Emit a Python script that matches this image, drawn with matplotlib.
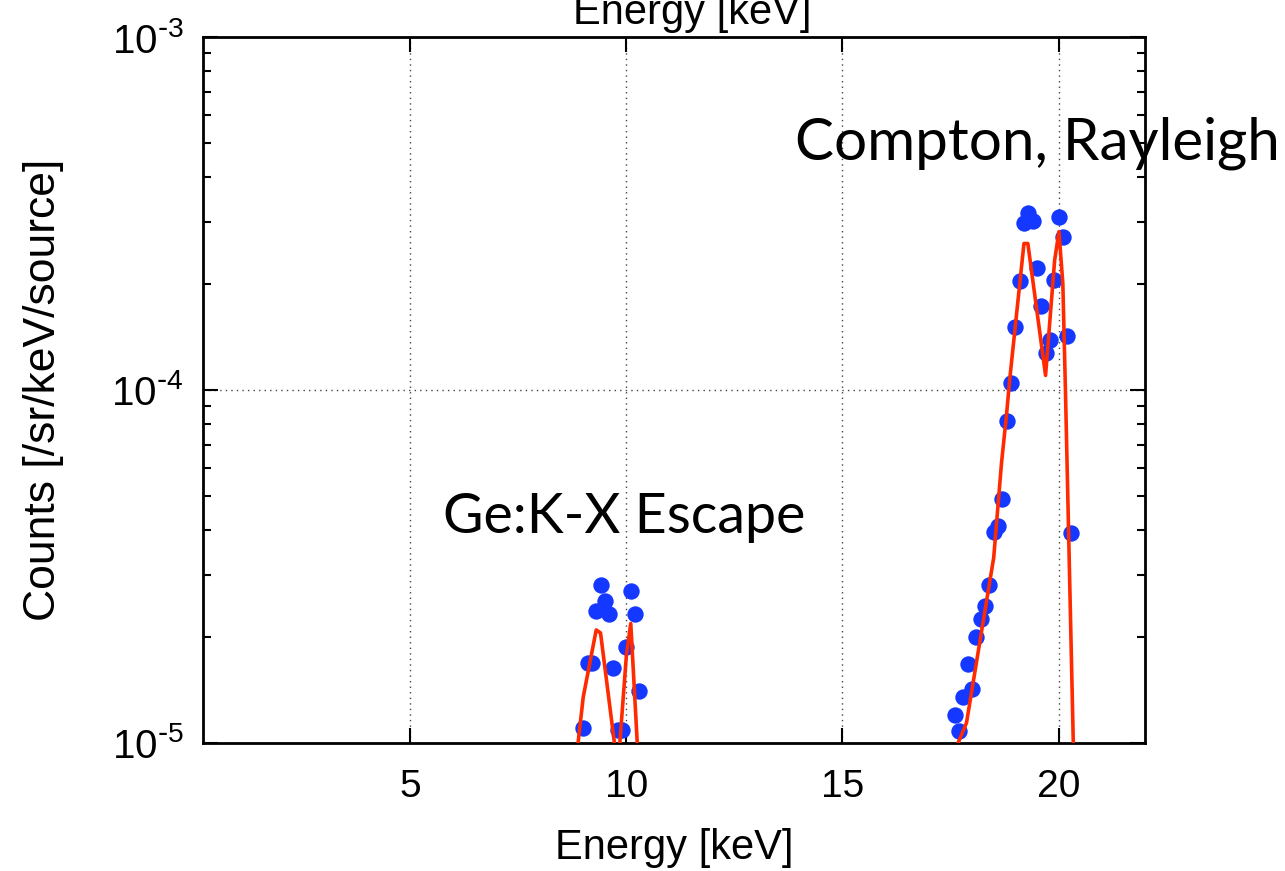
# Ge detector spectrum: escape peak and Compton/Rayleigh region, data vs simulation

import numpy as np
import matplotlib.pyplot as plt
from matplotlib.ticker import FixedLocator, LogLocator, FuncFormatter, NullFormatter

plt.rcParams['font.family'] = ['Liberation Sans', 'DejaVu Sans']
plt.rcParams['axes.unicode_minus'] = False

# measured points (energy in keV, counts /sr/keV/source)
esc_x = [9.0, 9.1, 9.2, 9.3, 9.4, 9.5, 9.6, 9.7, 9.8, 9.9, 10.0, 10.1, 10.2, 10.3]
esc_y = [1.10e-5, 1.69e-5, 1.69e-5, 2.37e-5, 2.80e-5, 2.53e-5, 2.32e-5, 1.63e-5,
         1.09e-5, 1.09e-5, 1.87e-5, 2.70e-5, 2.32e-5, 1.40e-5]

cmp_x = [17.6, 17.7, 17.8, 17.9, 18.0, 18.1, 18.2, 18.3, 18.4, 18.5, 18.6, 18.7,
         18.8, 18.9, 19.0, 19.1, 19.2, 19.3, 19.4, 19.5, 19.6, 19.7, 19.8, 19.9,
         20.0, 20.1, 20.2, 20.3]
cmp_y = [1.20e-5, 1.08e-5, 1.35e-5, 1.67e-5, 1.42e-5, 2.00e-5, 2.25e-5, 2.45e-5,
         2.80e-5, 3.96e-5, 4.12e-5, 4.91e-5, 8.15e-5, 1.05e-4, 1.51e-4, 2.04e-4,
         2.97e-4, 3.17e-4, 3.02e-4, 2.22e-4, 1.73e-4, 1.27e-4, 1.39e-4, 2.05e-4,
         3.10e-4, 2.71e-4, 1.42e-4, 3.94e-5]

# simulation curves
sim_esc_x = [8.8, 9.0, 9.3, 9.4, 9.8, 10.0, 10.1, 10.3]
sim_esc_y = [8.2e-6, 1.35e-5, 2.09e-5, 2.05e-5, 8.4e-6, 1.78e-5, 2.18e-5, 7.7e-6]

sim_cmp_x = [17.6, 17.87, 18.5, 18.68, 18.8, 18.87, 19.2, 19.29, 19.7, 19.91,
             20.01, 20.1, 20.16, 20.4]
sim_cmp_y = [9.5e-6, 1.14e-5, 3.35e-5, 6.2e-5, 8.6e-5, 1.07e-4, 2.60e-4, 2.60e-4,
             1.10e-4, 2.33e-4, 2.81e-4, 2.0e-4, 1.0e-4, 4.8e-6]

fig = plt.figure(figsize=(12.85, 8.71), dpi=100)
ax = fig.add_axes([0.158, 0.147, 0.733, 0.8105])

blue = '#1438ff'
red = '#ff2a00'

ax.plot(sim_esc_x, sim_esc_y, color=red, lw=2.6, zorder=3)
ax.plot(sim_cmp_x, sim_cmp_y, color=red, lw=2.6, zorder=3)
ax.plot(esc_x, esc_y, 'o', color=blue, ms=11.8, mec='none', zorder=2)
ax.plot(cmp_x, cmp_y, 'o', color=blue, ms=11.8, mec='none', zorder=2)

ax.set_yscale('log')
ax.set_xlim(0.2, 22)
ax.set_ylim(1e-5, 1e-3)


def pow_label(v, pos):
    e = int(round(np.log10(v)))
    sign = r'\text{-}' if e < 0 else ''
    return r'$\mathregular{10^{%s%d}}$' % (sign, abs(e))


ax.xaxis.set_major_locator(FixedLocator([5, 10, 15, 20]))
ax.yaxis.set_major_locator(LogLocator(base=10, numticks=5))
ax.yaxis.set_minor_locator(LogLocator(base=10, subs=np.arange(2, 10), numticks=20))
ax.yaxis.set_minor_formatter(NullFormatter())
ax.yaxis.set_major_formatter(FuncFormatter(pow_label))

ax.tick_params(which='both', direction='in', top=True, right=True, labelsize=28)
ax.tick_params(which='major', length=11, width=1.5)
ax.tick_params(which='minor', length=6, width=1.5)
ax.tick_params(axis='x', pad=19)
ax.tick_params(axis='y', labelsize=29, pad=14)
for s in ax.spines.values():
    s.set_linewidth(2.0)

ax.grid(True, which='major', linestyle=(0, (1, 3)), color='#444444', lw=1.0)

ax.set_xlabel('Energy [keV]', fontsize=30, labelpad=16.5)
ax.set_ylabel('Counts [/sr/keV/source]', fontsize=32)
ax.yaxis.set_label_coords(-0.148, 0.5)
fig.text(0.5385, 0.972, 'Energy [keV]', fontsize=30, ha='center', va='baseline')

ax.text(5.76, 3.94e-5, 'Ge:K-X Escape', fontfamily='Lato', fontsize=40, va='baseline', ha='left',
        clip_on=False)
ax.text(13.91, 4.49e-4, 'Compton, Rayleigh', fontfamily='Lato', fontsize=42, va='baseline',
        ha='left', clip_on=False, zorder=5)

fig.savefig('out.png', dpi=100)
